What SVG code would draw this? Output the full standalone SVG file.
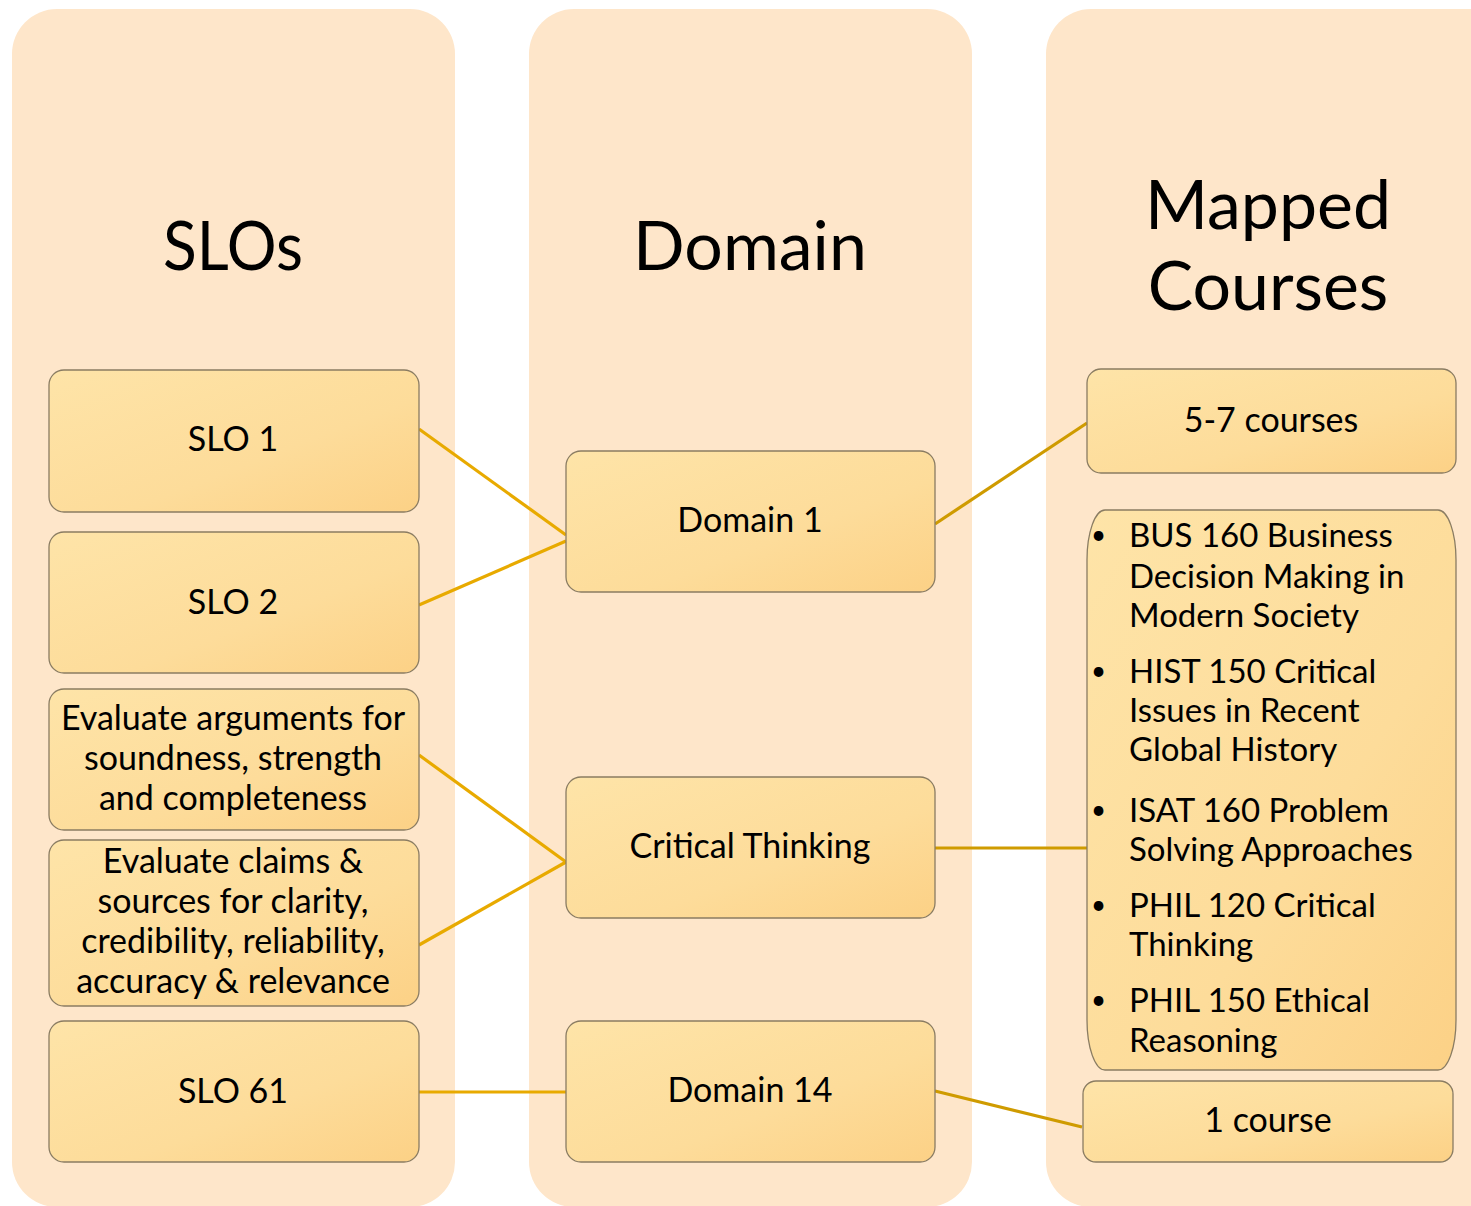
<svg xmlns="http://www.w3.org/2000/svg" width="1471" height="1206" viewBox="0 0 1471 1206">
<defs>
<linearGradient id="ng" x1="0" y1="0" x2="1" y2="1">
<stop offset="0" stop-color="#FEE4A8"/>
<stop offset="0.6" stop-color="#FDDC9A"/>
<stop offset="1" stop-color="#FCD186"/>
</linearGradient>
<style>
.col{fill:#FEE6CA}
.node{fill:url(#ng);stroke:#8A7C62;stroke-width:1.3}
.t{font-family:Lato,"Open Sans","Liberation Sans",sans-serif;fill:#000;text-anchor:middle}
.h{font-size:68px}
.n{font-size:34px}
.b{font-family:Lato,"Open Sans","Liberation Sans",sans-serif;fill:#000;font-size:33px}
.d{font-family:Lato,"Open Sans","Liberation Sans",sans-serif;fill:#000;font-size:26px}
.c1{stroke:#E8AA00;stroke-width:3.2;fill:none}
.c2{stroke:#CF9B00;stroke-width:3.2;fill:none}
</style>
</defs>
<rect width="1471" height="1206" fill="#FFFFFF"/>
<g id="columns">
<rect class="col" x="12" y="9" width="443" height="1198" rx="45"/>
<rect class="col" x="529" y="9" width="443" height="1198" rx="45"/>
<rect class="col" x="1046" y="9" width="470" height="1198" rx="45"/>
<text class="t h" x="233" y="270" textLength="140" lengthAdjust="spacingAndGlyphs">SLOs</text>
<text class="t h" x="750" y="270">Domain</text>
<text class="t h" x="1268" y="229">Mapped</text>
<text class="t h" x="1268" y="310">Courses</text>
</g>
<g id="connectors">
<line class="c1" x1="419" y1="429" x2="566" y2="535"/>
<line class="c1" x1="419" y1="605" x2="566" y2="541"/>
<line class="c1" x1="419" y1="755" x2="566" y2="862"/>
<line class="c1" x1="419" y1="945" x2="566" y2="862"/>
<line class="c1" x1="419" y1="1092" x2="566" y2="1092"/>
<line class="c2" x1="935" y1="524" x2="1087" y2="423"/>
<line class="c2" x1="935" y1="848" x2="1087" y2="848"/>
<line class="c2" x1="935" y1="1091" x2="1082" y2="1127"/>
</g>
<g id="slo1"><rect class="node" x="49" y="370" width="370" height="142" rx="15"/><text class="t n" x="233" y="451">SLO 1</text></g>
<g id="slo2"><rect class="node" x="49" y="532" width="370" height="141" rx="15"/><text class="t n" x="233" y="614">SLO 2</text></g>
<g id="slo-args"><rect class="node" x="49" y="689" width="370" height="141" rx="15"/>
<text class="t n" x="233" y="730">Evaluate arguments for</text>
<text class="t n" x="233" y="770">soundness, strength</text>
<text class="t n" x="233" y="810">and completeness</text></g>
<g id="slo-claims"><rect class="node" x="49" y="840" width="370" height="166" rx="15"/>
<text class="t n" x="233" y="873">Evaluate claims &amp;</text>
<text class="t n" x="233" y="913">sources for clarity,</text>
<text class="t n" x="233" y="953">credibility, reliability,</text>
<text class="t n" x="233" y="993">accuracy &amp; relevance</text></g>
<g id="slo61"><rect class="node" x="49" y="1021" width="370" height="141" rx="15"/><text class="t n" x="233" y="1103">SLO 61</text></g>
<g id="domain1"><rect class="node" x="566" y="451" width="369" height="141" rx="15"/><text class="t n" x="750" y="532">Domain 1</text></g>
<g id="critical"><rect class="node" x="566" y="777" width="369" height="141" rx="15"/><text class="t n" x="750" y="858">Critical Thinking</text></g>
<g id="domain14"><rect class="node" x="566" y="1021" width="369" height="141" rx="15"/><text class="t n" x="750" y="1102">Domain 14</text></g>
<g id="courses57"><rect class="node" x="1087" y="369" width="369" height="104" rx="14"/><text class="t n" x="1271" y="432">5-7 courses</text></g>
<g id="courselist"><rect class="node" x="1087" y="510" width="369" height="560" rx="18" ry="50"/>
<text class="d" x="1091" y="544">•</text><text class="b" x="1129" y="547">BUS 160 Business</text>
<text class="b" x="1129" y="588">Decision Making in</text>
<text class="b" x="1129" y="627">Modern Society</text>
<text class="d" x="1091" y="680">•</text><text class="b" x="1129" y="683">HIST 150 Critical</text>
<text class="b" x="1129" y="722">Issues in Recent</text>
<text class="b" x="1129" y="761">Global History</text>
<text class="d" x="1091" y="819">•</text><text class="b" x="1129" y="822">ISAT 160 Problem</text>
<text class="b" x="1129" y="861">Solving Approaches</text>
<text class="d" x="1091" y="914">•</text><text class="b" x="1129" y="917">PHIL 120 Critical</text>
<text class="b" x="1129" y="956">Thinking</text>
<text class="d" x="1091" y="1009">•</text><text class="b" x="1129" y="1012">PHIL 150 Ethical</text>
<text class="b" x="1129" y="1052">Reasoning</text></g>
<g id="course1"><rect class="node" x="1083" y="1081" width="370" height="81" rx="13"/><text class="t n" x="1268" y="1132">1 course</text></g>
</svg>
